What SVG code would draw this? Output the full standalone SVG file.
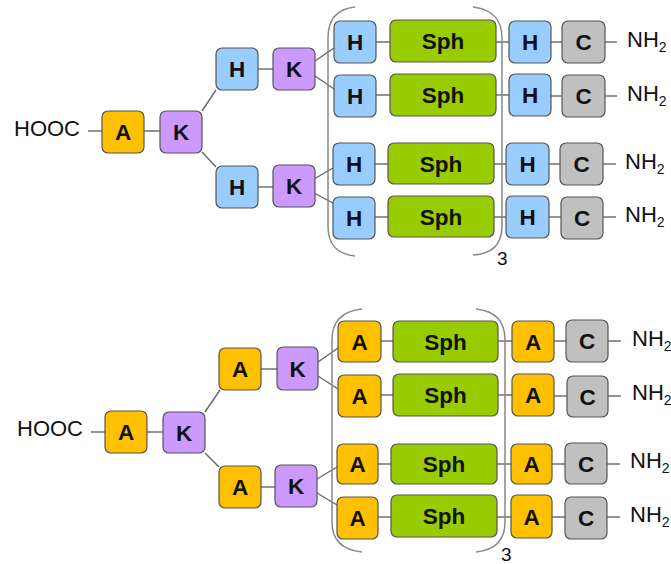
<svg xmlns="http://www.w3.org/2000/svg" width="671" height="564" viewBox="0 0 671 564">
<style>
.b{stroke:#555;stroke-width:1.2}
.A{fill:#FFC000}.K{fill:#CC99FF}.H{fill:#99CCFF}.S{fill:#99CC00}.C{fill:#C0C0C0}
.t{font-family:"Liberation Sans",Arial,sans-serif;font-weight:bold;font-size:22.5px;fill:#111;text-anchor:middle}
.l{font-family:"Liberation Sans",Arial,sans-serif;font-size:22px;fill:#111}
.s{font-size:14px}
#conn line{stroke:#666;stroke-width:1.4}
.p{fill:none;stroke:#888;stroke-width:1.5}
</style>
<rect width="671" height="564" fill="#fff"/>
<g id="conn">
<line x1="88" y1="131" x2="102" y2="131"/>
<line x1="144" y1="131" x2="160" y2="131"/>
<line x1="202" y1="111" x2="216" y2="90"/>
<line x1="202" y1="152" x2="216" y2="167"/>
<line x1="258" y1="69" x2="273" y2="69"/>
<line x1="258" y1="187" x2="273" y2="187"/>
<line x1="315" y1="61" x2="334" y2="48"/>
<line x1="315" y1="76" x2="334" y2="89"/>
<line x1="314" y1="179" x2="333" y2="168"/>
<line x1="314" y1="193" x2="333" y2="203"/>
<line x1="376" y1="42" x2="390" y2="42"/><line x1="496" y1="42" x2="509" y2="42"/><line x1="551" y1="42" x2="562" y2="42"/><line x1="605" y1="42" x2="617" y2="42"/>
<line x1="376" y1="95" x2="390" y2="95"/><line x1="496" y1="95" x2="509" y2="95"/><line x1="551" y1="96" x2="562" y2="96"/><line x1="605" y1="96" x2="617" y2="96"/>
<line x1="375" y1="164" x2="388" y2="164"/><line x1="494" y1="164" x2="506" y2="164"/><line x1="549" y1="164" x2="560" y2="164"/><line x1="603" y1="164" x2="616" y2="164"/>
<line x1="375" y1="217" x2="388" y2="217"/><line x1="494" y1="217" x2="506" y2="217"/><line x1="549" y1="217" x2="561" y2="217"/><line x1="603" y1="217" x2="616" y2="217"/>
<line x1="91" y1="432" x2="105" y2="432"/>
<line x1="147" y1="432" x2="163" y2="432"/>
<line x1="205" y1="412" x2="220" y2="390"/>
<line x1="205" y1="453" x2="219" y2="467"/>
<line x1="261" y1="369" x2="277" y2="369"/>
<line x1="261" y1="487" x2="275" y2="487"/>
<line x1="318" y1="362" x2="338" y2="348"/>
<line x1="318" y1="376" x2="338" y2="389"/>
<line x1="317" y1="479" x2="337" y2="467"/>
<line x1="317" y1="493" x2="337" y2="505"/>
<line x1="381" y1="341" x2="393" y2="341"/><line x1="498" y1="341" x2="512" y2="341"/><line x1="554" y1="341" x2="566" y2="341"/><line x1="608" y1="341" x2="621" y2="341"/>
<line x1="381" y1="395" x2="393" y2="395"/><line x1="498" y1="395" x2="512" y2="395"/><line x1="554" y1="396" x2="567" y2="396"/><line x1="608" y1="396" x2="621" y2="396"/>
<line x1="378" y1="464" x2="391" y2="464"/><line x1="497" y1="464" x2="511" y2="464"/><line x1="552" y1="464" x2="565" y2="464"/><line x1="607" y1="464" x2="620" y2="464"/>
<line x1="378" y1="517" x2="391" y2="517"/><line x1="497" y1="517" x2="511" y2="517"/><line x1="552" y1="517" x2="565" y2="517"/><line x1="607" y1="517" x2="620" y2="517"/>
</g>
<g id="brackets">
<path class="p" d="M355 7 C336 9 328 20 328 38 V226 C328 244 336 254 355 256"/>
<path class="p" d="M473 7 C492 9 502 20 502 38 V226 C502 244 492 254 473 255"/>
<path class="p" d="M362 309 C342 311 332 322 332 340 V522 C332 540 342 550 362 552"/>
<path class="p" d="M476 309 C496 311 505 322 505 340 V522 C505 540 496 550 476 552"/>
<text class="l" x="497" y="265" style="font-size:19px">3</text>
<text class="l" x="501" y="561" style="font-size:19px">3</text>
</g>
<g id="hooc1"><text class="l" x="14" y="136">HOOC</text></g>
<g id="a1"><rect class="b A" x="102" y="111" width="42" height="42" rx="6"/><text class="t" x="123" y="140">A</text></g>
<g id="k1"><rect class="b K" x="160" y="111" width="42" height="42" rx="6"/><text class="t" x="181" y="140">K</text></g>
<g id="hu"><rect class="b H" x="216" y="48" width="42" height="42" rx="6"/><text class="t" x="237" y="77">H</text></g>
<g id="ku"><rect class="b K" x="273" y="48" width="42" height="42" rx="6"/><text class="t" x="294" y="77">K</text></g>
<g id="hl"><rect class="b H" x="216" y="166" width="42" height="42" rx="6"/><text class="t" x="237" y="195">H</text></g>
<g id="kl"><rect class="b K" x="273" y="165" width="42" height="42" rx="6"/><text class="t" x="294" y="194">K</text></g>
<g id="r1">
<rect class="b H" x="334" y="21" width="42" height="42" rx="6"/><text class="t" x="355" y="50">H</text>
<rect class="b S" x="390" y="20" width="106" height="42" rx="6"/><text class="t" x="443" y="49">Sph</text>
<rect class="b H" x="509" y="21" width="42" height="42" rx="6"/><text class="t" x="530" y="50">H</text>
<rect class="b C" x="562" y="21" width="43" height="42" rx="6"/><text class="t" x="583.5" y="50">C</text>
<text class="l" x="627" y="47">NH<tspan class="s" dy="5">2</tspan></text>
</g>
<g id="r2">
<rect class="b H" x="334" y="75" width="42" height="42" rx="6"/><text class="t" x="355" y="104">H</text>
<rect class="b S" x="390" y="74" width="106" height="42" rx="6"/><text class="t" x="443" y="103">Sph</text>
<rect class="b H" x="509" y="74" width="42" height="42" rx="6"/><text class="t" x="530" y="103">H</text>
<rect class="b C" x="562" y="75" width="43" height="42" rx="6"/><text class="t" x="583.5" y="104">C</text>
<text class="l" x="627" y="101">NH<tspan class="s" dy="5">2</tspan></text>
</g>
<g id="r3">
<rect class="b H" x="333" y="143" width="42" height="42" rx="6"/><text class="t" x="354" y="172">H</text>
<rect class="b S" x="388" y="143" width="106" height="41" rx="6"/><text class="t" x="441" y="171.5">Sph</text>
<rect class="b H" x="506" y="143" width="43" height="42" rx="6"/><text class="t" x="527.5" y="172">H</text>
<rect class="b C" x="560" y="143" width="43" height="42" rx="6"/><text class="t" x="581.5" y="172">C</text>
<text class="l" x="625" y="169">NH<tspan class="s" dy="5">2</tspan></text>
</g>
<g id="r4">
<rect class="b H" x="333" y="197" width="42" height="42" rx="6"/><text class="t" x="354" y="226">H</text>
<rect class="b S" x="388" y="196" width="106" height="41" rx="6"/><text class="t" x="441" y="224.5">Sph</text>
<rect class="b H" x="506" y="196" width="43" height="42" rx="6"/><text class="t" x="527.5" y="225">H</text>
<rect class="b C" x="561" y="197" width="42" height="42" rx="6"/><text class="t" x="582" y="226">C</text>
<text class="l" x="625" y="222">NH<tspan class="s" dy="5">2</tspan></text>
</g>
<g id="hooc2"><text class="l" x="17" y="436">HOOC</text></g>
<g id="a2"><rect class="b A" x="105" y="411" width="42" height="42" rx="6"/><text class="t" x="126" y="440">A</text></g>
<g id="k2"><rect class="b K" x="163" y="412" width="42" height="41" rx="6"/><text class="t" x="184" y="440.5">K</text></g>
<g id="au"><rect class="b A" x="219" y="348" width="42" height="42" rx="6"/><text class="t" x="240" y="377">A</text></g>
<g id="ku2"><rect class="b K" x="277" y="347" width="41" height="43" rx="6"/><text class="t" x="297.5" y="376.5">K</text></g>
<g id="al"><rect class="b A" x="219" y="466" width="42" height="42" rx="6"/><text class="t" x="240" y="495">A</text></g>
<g id="kl2"><rect class="b K" x="275" y="465" width="42" height="42" rx="6"/><text class="t" x="296" y="494">K</text></g>
<g id="b1">
<rect class="b A" x="338" y="321" width="43" height="41" rx="6"/><text class="t" x="359.5" y="349.5">A</text>
<rect class="b S" x="393" y="321" width="105" height="41" rx="6"/><text class="t" x="445.5" y="349.5">Sph</text>
<rect class="b A" x="512" y="321" width="42" height="41" rx="6"/><text class="t" x="533" y="349.5">A</text>
<rect class="b C" x="566" y="320" width="42" height="42" rx="6"/><text class="t" x="587" y="349">C</text>
<text class="l" x="632" y="346">NH<tspan class="s" dy="5">2</tspan></text>
</g>
<g id="b2">
<rect class="b A" x="338" y="375" width="43" height="42" rx="6"/><text class="t" x="359.5" y="404">A</text>
<rect class="b S" x="393" y="374" width="105" height="42" rx="6"/><text class="t" x="445.5" y="403">Sph</text>
<rect class="b A" x="512" y="374" width="42" height="42" rx="6"/><text class="t" x="533" y="403">A</text>
<rect class="b C" x="567" y="376" width="41" height="41" rx="6"/><text class="t" x="587.5" y="404.5">C</text>
<text class="l" x="632" y="400">NH<tspan class="s" dy="5">2</tspan></text>
</g>
<g id="b3">
<rect class="b A" x="337" y="444" width="41" height="40" rx="6"/><text class="t" x="357.5" y="472">A</text>
<rect class="b S" x="391" y="444" width="106" height="40" rx="6"/><text class="t" x="444" y="472">Sph</text>
<rect class="b A" x="511" y="444" width="41" height="40" rx="6"/><text class="t" x="531.5" y="472">A</text>
<rect class="b C" x="565" y="443" width="42" height="41" rx="6"/><text class="t" x="586" y="471.5">C</text>
<text class="l" x="630" y="468">NH<tspan class="s" dy="5">2</tspan></text>
</g>
<g id="b4">
<rect class="b A" x="337" y="497" width="41" height="42" rx="6"/><text class="t" x="357.5" y="526">A</text>
<rect class="b S" x="391" y="495" width="106" height="42" rx="6"/><text class="t" x="444" y="524">Sph</text>
<rect class="b A" x="511" y="495" width="41" height="43" rx="6"/><text class="t" x="531.5" y="524.5">A</text>
<rect class="b C" x="565" y="497" width="42" height="42" rx="6"/><text class="t" x="586" y="526">C</text>
<text class="l" x="630" y="522">NH<tspan class="s" dy="5">2</tspan></text>
</g>
</svg>
